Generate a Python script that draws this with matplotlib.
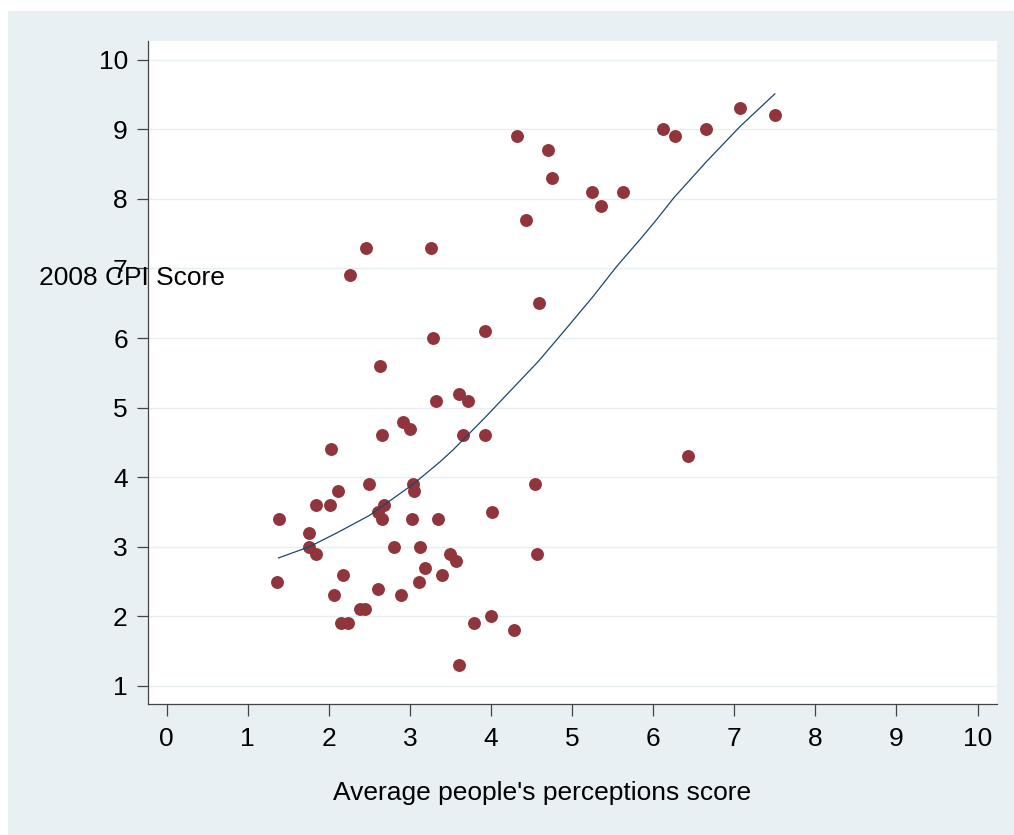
import matplotlib.pyplot as plt
from matplotlib.patches import Rectangle

# scatter: average perceptions score vs 2008 CPI score
perception = [
    1.38, 1.36, 1.76, 1.76, 1.84, 1.84, 2.01, 2.03, 2.11, 2.06,
    2.17, 2.15, 2.24, 2.26, 2.46, 2.38, 2.45, 2.50, 2.61, 2.63,
    2.61, 2.65, 2.66, 2.68, 2.80, 2.89, 2.92, 3.00, 3.03, 3.04,
    3.05, 3.11, 3.13, 3.19, 3.26, 3.28, 3.32, 3.35, 3.39, 3.49,
    3.57, 3.61, 3.61, 3.66, 3.72, 3.79, 3.93, 3.92, 4.00, 4.01,
    4.28, 4.32, 4.43, 4.54, 4.57, 4.59, 4.70, 4.75, 5.24, 5.36,
    5.63, 6.12, 6.27, 6.43, 6.65, 7.07, 7.50,
]
cpi = [
    3.4, 2.5, 3.2, 3.0, 3.6, 2.9, 3.6, 4.4, 3.8, 2.3,
    2.6, 1.9, 1.9, 6.9, 7.3, 2.1, 2.1, 3.9, 3.5, 5.6,
    2.4, 4.6, 3.4, 3.6, 3.0, 2.3, 4.8, 4.7, 3.4, 3.9,
    3.8, 2.5, 3.0, 2.7, 7.3, 6.0, 5.1, 3.4, 2.6, 2.9,
    2.8, 5.2, 1.3, 4.6, 5.1, 1.9, 6.1, 4.6, 2.0, 3.5,
    1.8, 8.9, 7.7, 3.9, 2.9, 6.5, 8.7, 8.3, 8.1, 7.9,
    8.1, 9.0, 8.9, 4.3, 9.0, 9.3, 9.2,
]

# lowess curve
smooth_x = [1.38, 1.76, 2.10, 2.50, 3.04, 3.37, 3.53, 3.92, 4.27, 4.58,
            4.93, 5.26, 5.55, 5.84, 6.04, 6.25, 6.66, 7.07, 7.50]
smooth_y = [2.84, 3.00, 3.20, 3.45, 3.90, 4.22, 4.39, 4.85, 5.28, 5.66,
            6.14, 6.60, 7.03, 7.42, 7.70, 8.01, 8.54, 9.04, 9.51]

ticks = list(range(0, 11))

bg = "#e8f0f3"
grid_col = "#e6eef1"
dot_col = "#90353b"
line_col = "#1a476f"
axis_col = "#444444"

plt.rcParams["font.family"] = ["Liberation Sans", "DejaVu Sans"]

fig = plt.figure(figsize=(10.14, 8.35), dpi=100, facecolor="white")
fig.patches.append(Rectangle((8 / 1014, 0), 1006 / 1014, 824 / 835,
                             transform=fig.transFigure, facecolor=bg,
                             edgecolor="none", zorder=-10))

ax = fig.add_axes([148 / 1014, 1 - 704 / 835, 849 / 1014, 663 / 835])
ax.set_zorder(1)
ax.set_facecolor("white")

ax.plot(perception, cpi, "o", color=dot_col, markersize=9.3,
        markeredgewidth=0, zorder=3)
ax.plot(smooth_x, smooth_y, color=line_col, linewidth=0.9, zorder=4)

ax.set_xlim(-0.23, 10.24)
ax.set_ylim(0.74, 10.27)
ax.set_xticks(ticks)
ax.set_yticks(ticks[1:])
ax.yaxis.grid(True, color=grid_col, linewidth=1.0)
ax.set_axisbelow(True)

for side in ["top", "right"]:
    ax.spines[side].set_visible(False)
for side in ["left", "bottom"]:
    ax.spines[side].set_color(axis_col)
    ax.spines[side].set_linewidth(0.9)

ax.tick_params(axis="y", direction="out", length=8, width=0.9,
               color=axis_col, pad=6.5, labelsize=19)
ax.tick_params(axis="x", direction="out", length=8.5, width=0.9,
               color=axis_col, pad=8, labelsize=19)

fig.text(542 / 1014, 1 - 800 / 835, "Average people's perceptions score",
         ha="center", va="baseline", fontsize=19)
# the label sits over the axis line, as in the original
fig.text(39 / 1014, 1 - 285 / 835, "2008 CPI Score",
         ha="left", va="baseline", fontsize=19, zorder=10)

fig.savefig("out.png", dpi=100, facecolor=fig.get_facecolor())
